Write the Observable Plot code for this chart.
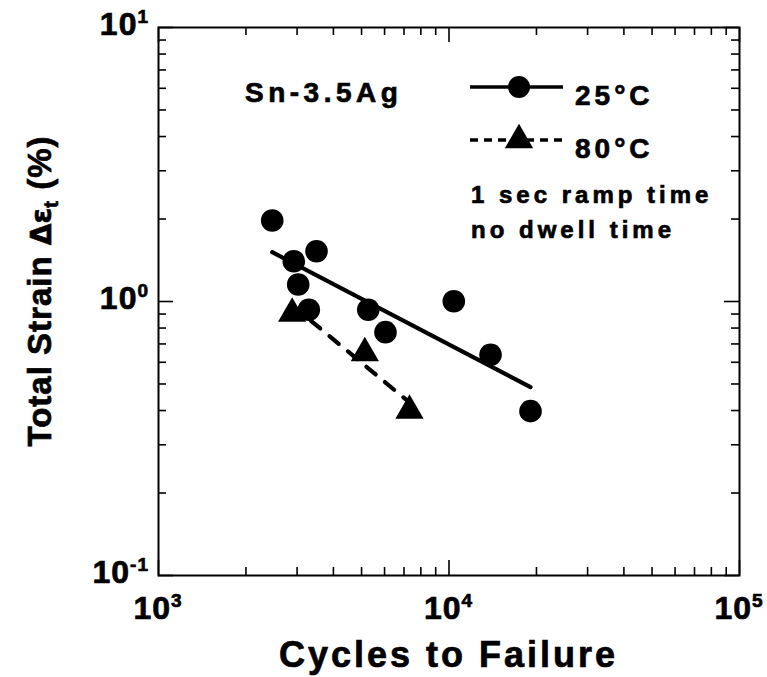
<!DOCTYPE html>
<html>
<head>
<meta charset="utf-8">
<script src="https://cdn.jsdelivr.net/npm/d3@7"></script>
<script src="https://cdn.jsdelivr.net/npm/@observablehq/plot@0.6"></script>
<style>
  html, body { margin: 0; padding: 0; background: #fff; }
  svg { font-family: "Liberation Sans", Arial, Helvetica, sans-serif; font-weight: bold; }
  svg text.lbl { stroke: black; stroke-width: 0.7px; paint-order: stroke; }
</style>
</head>
<body>
<div id="chart"></div>
<script>
// ---- data ----
const cycles25 = [2463, 2922, 3499, 3026, 3292, 5272, 6045, 10388, 13900, 19080];
const strain25 = [1.975, 1.403, 1.526, 1.153, 0.933, 0.933, 0.773, 1.0025, 0.639, 0.398];
const cycles80 = [2885, 5131, 7311];
const strain80 = [0.904, 0.648, 0.400];
const fitCycles25 = [2463, 19080];
const fitStrain25 = [1.513, 0.487];
const fitCycles80 = [2893, 7311];
const fitStrain80 = [0.967, 0.428];

const xMajor = [1e3, 1e4, 1e5];
const xMinor = [2e3,3e3,4e3,5e3,6e3,7e3,8e3,9e3,2e4,3e4,4e4,5e4,6e4,7e4,8e4,9e4];
const yMajor = [0.1, 1, 10];
const yMinor = [0.2,0.3,0.4,0.5,0.6,0.7,0.8,0.9,2,3,4,5,6,7,8,9];
const xTickLabels = [["10","3"],["10","4"],["10","5"]];
const yTickLabels = [["10","-1"],["10","0"],["10","1"]];

const alloyLabel = "Sn-3.5Ag";
const seriesNames = ["25°C", "80°C"];
const noteLines = ["1 sec ramp time", "no dwell time"];
const xTitle = "Cycles to Failure";

const pts25 = cycles25.map((c, i) => ({c, s: strain25[i]}));
const pts80 = cycles80.map((c, i) => ({c, s: strain80[i]}));
const fit25 = fitCycles25.map((c, i) => ({c, s: fitStrain25[i]}));
const fit80 = fitCycles80.map((c, i) => ({c, s: fitStrain80[i]}));

const W = 767, H = 677;
const mT = 27, mR = 28, mB = 102, mL = 158;
const fw = W - mL - mR, fh = H - mT - mB;
const minorLen = 8, majorLen = 15;

const plot = Plot.plot({
  width: W, height: H,
  marginTop: mT, marginRight: mR, marginBottom: mB, marginLeft: mL,
  style: {background: "white", overflow: "visible"},
  x: {type: "log", domain: [1e3, 1e5], axis: null},
  y: {type: "log", domain: [0.1, 10], axis: null},
  marks: [
    // inward ticks on all four sides
    Plot.tickX(xMinor, {x: d => d, insetTop: fh - minorLen, stroke: "black", strokeWidth: 1.6}),
    Plot.tickX(xMinor, {x: d => d, insetBottom: fh - minorLen, stroke: "black", strokeWidth: 1.6}),
    Plot.tickX(xMajor, {x: d => d, insetTop: fh - majorLen, stroke: "black", strokeWidth: 1.6}),
    Plot.tickX(xMajor, {x: d => d, insetBottom: fh - majorLen, stroke: "black", strokeWidth: 1.6}),
    Plot.tickY(yMinor, {y: d => d, insetRight: fw - minorLen, stroke: "black", strokeWidth: 1.6}),
    Plot.tickY(yMinor, {y: d => d, insetLeft: fw - minorLen, stroke: "black", strokeWidth: 1.6}),
    Plot.tickY(yMajor, {y: d => d, insetRight: fw - majorLen, stroke: "black", strokeWidth: 1.6}),
    Plot.tickY(yMajor, {y: d => d, insetLeft: fw - majorLen, stroke: "black", strokeWidth: 1.6}),
    Plot.frame({stroke: "black", strokeWidth: 2}),
    // fit lines
    Plot.line(fit25, {x: "c", y: "s", stroke: "black", strokeWidth: 4.2, strokeLinecap: "round"}),
    Plot.line(fit80, {x: "c", y: "s", stroke: "black", strokeWidth: 4.2, strokeDasharray: "12,12", strokeLinecap: "round"}),
    // data points
    Plot.dot(pts25, {x: "c", y: "s", r: 11.3, fill: "black", stroke: "none"}),
    Plot.dot(pts80, {x: "c", y: "s", r: 10.5, symbol: "triangle", fill: "black", stroke: "none"})
  ]
});

const svg = d3.select(plot);
const sx = plot.scale("x"), sy = plot.scale("y");

// x tick labels
xMajor.forEach((v, i) => {
  const t = svg.append("text").attr("class", "lbl")
    .attr("x", sx.apply(v)).attr("y", 619)
    .attr("text-anchor", "middle")
    .attr("font-size", 32).attr("letter-spacing", 1).attr("fill", "black");
  t.append("tspan").text(xTickLabels[i][0]);
  t.append("tspan").attr("font-size", 19).attr("dy", -12).text(xTickLabels[i][1]);
});
// y tick labels
yMajor.forEach((v, i) => {
  const t = svg.append("text").attr("class", "lbl")
    .attr("x", 149).attr("y", sy.apply(v) + 8)
    .attr("text-anchor", "end")
    .attr("font-size", 32).attr("letter-spacing", 1).attr("fill", "black");
  t.append("tspan").text(yTickLabels[i][0]);
  t.append("tspan").attr("font-size", 19).attr("dy", -12).text(yTickLabels[i][1]);
});

// axis titles
svg.append("text").attr("class", "lbl")
  .attr("x", mL + fw / 2).attr("y", 667)
  .attr("text-anchor", "middle").attr("font-size", 36).attr("letter-spacing", 3)
  .attr("fill", "black").text(xTitle);

const yt = svg.append("text").attr("class", "lbl")
  .attr("transform", `translate(51, 291) rotate(-90)`)
  .attr("text-anchor", "middle").attr("font-size", 33).attr("letter-spacing", 1)
  .attr("fill", "black");
yt.append("tspan").text("Total Strain ");
yt.append("tspan").attr("font-family", "'DejaVu Sans', sans-serif").attr("font-size", 28).attr("letter-spacing", 0).text("Δε");
yt.append("tspan").attr("font-size", 21).attr("dy", 7).text("t");
yt.append("tspan").attr("dy", -7).text(" (%)");

// annotation + legend
svg.append("text").attr("class", "lbl").attr("x", 245).attr("y", 102).attr("text-anchor", "start")
  .attr("font-size", 28).attr("letter-spacing", 4.5).attr("fill", "black").text(alloyLabel);

const legX1 = 470, legX2 = 563, legMid = 519;
const legY = [87, 140];
svg.append("line").attr("x1", legX1).attr("x2", legX2).attr("y1", legY[0]).attr("y2", legY[0])
  .attr("stroke", "black").attr("stroke-width", 3.5);
svg.append("circle").attr("cx", legMid).attr("cy", legY[0]).attr("r", 11).attr("fill", "black");
svg.append("line").attr("x1", legX1).attr("x2", legX2).attr("y1", legY[1]).attr("y2", legY[1])
  .attr("stroke", "black").attr("stroke-width", 3.5).attr("stroke-dasharray", "8,6");
svg.append("path").attr("transform", `translate(${legMid},${legY[1]})`)
  .attr("d", d3.symbol(d3.symbolTriangle, Math.PI * 10.5 * 10.5)()).attr("fill", "black");

seriesNames.forEach((s, i) => {
  svg.append("text").attr("class", "lbl").attr("x", 575).attr("y", legY[i] + 18).attr("text-anchor", "start")
    .attr("font-size", 28).attr("letter-spacing", 4).attr("fill", "black").text(s);
});
noteLines.forEach((s, i) => {
  svg.append("text").attr("class", "lbl").attr("x", 471).attr("y", 203 + i * 35).attr("text-anchor", "start")
    .attr("font-size", 24).attr("letter-spacing", 4).attr("fill", "black").text(s);
});

document.getElementById("chart").appendChild(plot);
</script>
</body>
</html>
